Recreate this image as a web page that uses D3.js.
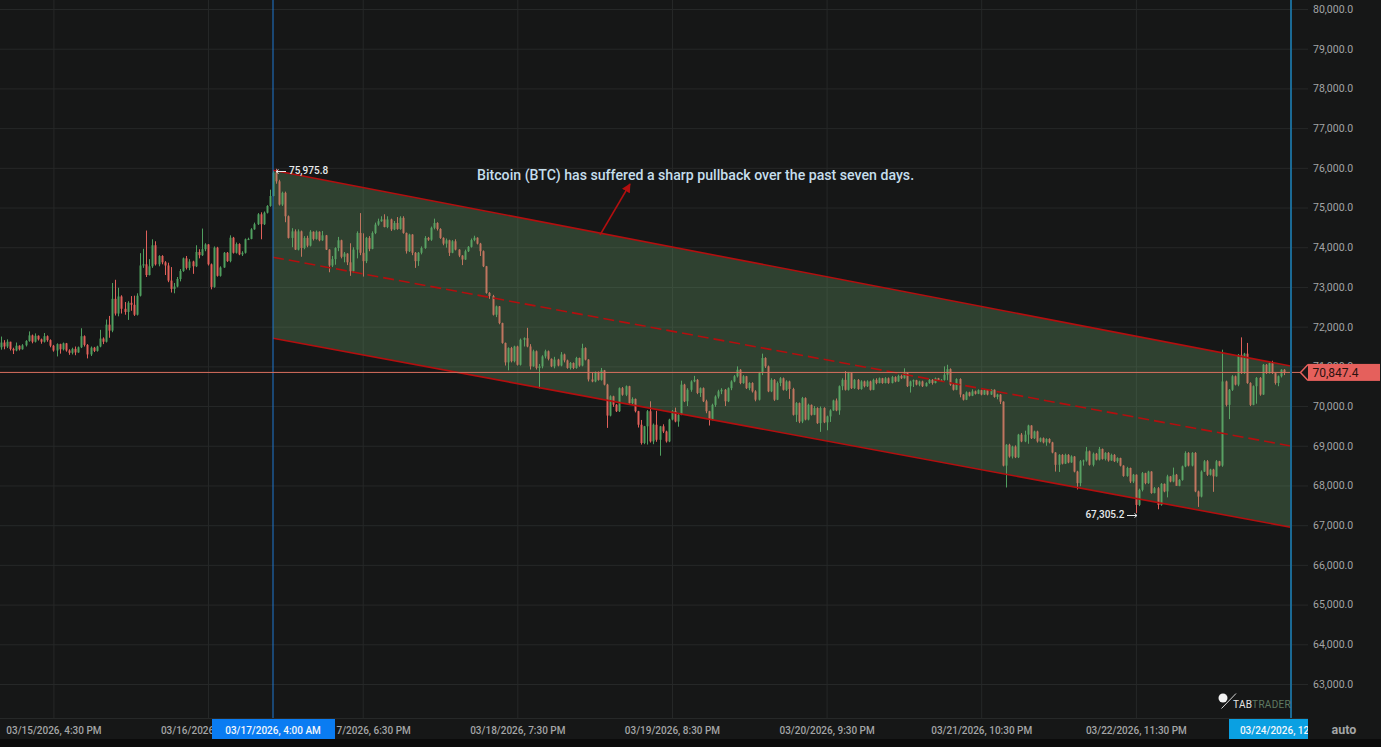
<!DOCTYPE html>
<html>
<head>
<meta charset="utf-8">
<style>
  html, body { margin: 0; padding: 0; background: #0b0b0b; }
  svg { display: block; font-family: Roboto, sans-serif; }
  .domain { display: none; }
</style>
</head>
<body>
<svg id="chart" width="1381" height="747"></svg>
<script src="https://cdn.jsdelivr.net/npm/d3@7"></script>
<script>
// 30 minute candles, the open of a candle is the close of the one before
const firstCandle = Date.UTC(2026, 2, 15, 8, 0);
const candleStep = 30 * 60 * 1000;

const closes = [
71600,71500,71620,71440,71400,71520,71430,71530,71640,71780,
71620,71770,71680,71620,71760,71660,71520,71400,71560,71430,
71580,71400,71340,71440,71350,71480,71760,71540,71300,71470,
71390,71500,71700,71620,72050,71900,72700,72330,72760,72450,
72370,72600,72550,72300,72780,73540,73570,73300,73520,74050,
73570,73780,73620,73540,73160,72950,73010,73200,73400,73720,
73480,73640,73520,73880,73800,73950,74070,73570,73000,73990,
73280,73490,73860,73650,74240,73860,74080,73820,73860,74200,
74210,74450,74580,74830,74580,74870,75040,75290,75880,75660,
75075,75370,74780,74235,74400,73940,74400,73980,74235,74040,
74390,74210,74390,74175,74300,73940,73540,73700,73980,74175,
73760,73840,73620,73395,73940,74360,73860,73650,74235,73960,
74360,74570,74655,74700,74510,74700,74450,74610,74460,74740,
74360,73900,74320,73860,73650,73860,73980,74235,74190,74490,
74610,74460,74235,74090,74175,73860,74150,73940,73790,73690,
73900,74010,74180,74240,74090,73900,73520,72850,72770,72300,
72510,72090,71590,71100,71460,71130,71500,71040,71670,71710,
71500,71000,71380,70960,71000,71250,71380,71190,71000,71170,
71020,71300,71150,70960,71085,70960,71210,71020,71460,71170,
70670,70620,70850,70660,70900,70540,69760,70245,70035,69870,
70450,70285,70500,70075,70180,69870,69530,69070,69490,69870,
69110,69530,69150,69490,69360,69110,69660,69870,69610,69780,
70540,70120,70410,70620,70660,70330,70450,70120,69870,69660,
70030,70240,70370,70410,70120,70450,70620,70750,70915,70580,
70750,70450,70580,70370,70160,70830,71210,71000,70370,70660,
70160,70580,70700,70410,70620,70430,69780,70075,69610,70200,
69660,70030,69780,69950,69570,69950,69590,69740,69890,70140,
69890,70500,70660,70410,70830,70450,70660,70430,70620,70500,
70620,70410,70660,70580,70700,70580,70700,70580,70730,70620,
70760,70700,70830,70500,70620,70650,70540,70620,70500,70580,
70660,70580,70700,70650,70660,70790,70930,70540,70410,70680,
70290,70160,70345,70260,70370,70310,70400,70290,70400,70290,
70410,70230,70290,70110,68500,69025,68730,68980,68710,69280,
69110,69280,69510,69190,69360,69110,69190,69085,69170,69085,
68830,68520,68770,68550,68770,68580,68730,68350,68060,68610,
68630,68860,68520,68800,68650,68920,68670,68820,68630,68770,
68610,68690,68500,68240,68440,68100,68270,67510,67890,68310,
68060,68350,67810,67930,67510,68040,67850,68230,68100,68270,
67990,68140,68480,68820,68500,68820,67850,67720,68350,68610,
68270,68400,68230,68610,68500,70620,70030,70410,70750,70540,
71290,70830,71320,70580,70030,70500,70710,70290,71040,70830,
71080,70830,70580,70750,70915,70847
];

const highs = [
71750,71660,71680,71620,71470,71600,71530,71560,71660,71880,
71800,71830,71780,71700,71840,71780,71680,71540,71580,71570,
71600,71590,71430,71470,71500,71500,71960,71780,71560,71500,
71490,71520,71920,71730,72180,72270,73100,73180,72980,72790,
72620,72640,72770,72780,72840,73850,73960,74420,73700,74200,
74150,73800,73800,73650,73610,73500,73100,73250,73450,73740,
73780,73700,73660,74050,73950,74470,74100,74080,73590,74020,
74010,73520,73880,73880,74300,74260,74120,74100,73900,74220,
74240,74480,74620,74860,74880,74900,75060,75450,75920,75976,
75700,75400,75400,74800,74480,74450,74450,74420,74280,74290,
74430,74400,74420,74400,74410,74310,73950,73780,74000,74260,
74190,73880,73850,74100,74000,74400,74860,74350,74260,74280,
74400,74620,74720,74780,74830,74780,74720,74660,74760,74780,
74780,74370,74340,74330,73880,73880,74020,74280,74260,74520,
74720,74630,74480,74250,74220,74190,74180,74200,73950,73800,
73940,74030,74220,74290,74250,74110,73920,73530,72870,72800,
72530,72520,72100,71600,71480,71490,71520,71520,71700,71730,
71970,71560,71420,71400,71060,71280,71420,71400,71200,71240,
71190,71360,71320,71170,71110,71100,71240,71220,71570,71480,
71180,70840,70870,70870,70960,70910,70560,70270,70260,70050,
70470,70480,70520,70510,70220,70190,69880,69650,69500,69900,
70120,69560,69880,69500,69540,69380,69680,69900,69960,69810,
70640,70560,70450,70650,70760,70680,70470,70470,70160,69880,
70060,70270,70410,70450,70430,70470,70650,70780,71000,70930,
70780,70760,70600,70600,70400,70860,71320,71230,71020,70700,
70680,70620,70730,70720,70650,70640,70460,70100,70090,70230,
70220,70060,70040,70000,69970,69990,69970,69760,69920,70160,
70190,70520,70700,70880,70860,70850,70680,70680,70650,70640,
70650,70640,70690,70700,70720,70710,70730,70720,70760,70750,
70790,70790,70950,70850,70640,70670,70660,70640,70640,70600,
70680,70680,70720,70710,70680,71000,71040,70950,70560,70700,
70700,70300,70370,70360,70420,70390,70420,70410,70420,70420,
70430,70420,70310,70300,70120,69040,69050,69000,69010,69300,
69320,69380,69530,69520,69380,69380,69210,69210,69190,69190,
69100,68840,68790,68790,68800,68790,68760,68740,68370,68640,
68650,68970,68880,68830,68820,68970,68930,68840,68840,68800,
68790,68710,68700,68510,68470,68450,68290,68280,67920,68340,
68320,68370,68360,67960,67960,68060,68050,68270,68240,68450,
68290,68160,68500,68860,68840,68840,68840,67870,68380,68640,
68640,68420,68420,68640,68620,71420,70640,70430,70780,70770,
71310,71730,71340,71590,70600,70520,70730,70730,71060,71060,
71100,71140,70840,70770,70930,70930
];

const lows = [
71420,71430,71460,71400,71310,71380,71400,71420,71500,71620,
71580,71600,71650,71570,71600,71620,71480,71370,71250,71320,
71400,71370,71290,71300,71280,71340,71460,71500,71200,71260,
71360,71370,71480,71560,71600,71720,71860,72280,72260,72330,
72300,72170,72400,72270,72280,72760,73480,73250,73290,73480,
73540,73520,73570,73300,73120,72860,72840,72990,73140,73380,
73440,73420,73330,73500,73720,73780,73900,73540,72940,72980,
73260,73260,73480,73630,73620,73840,73840,73800,73780,73840,
74180,74200,74440,74560,74200,74560,74850,75020,75280,75600,
75050,75040,74630,74220,74000,73930,73920,73760,73950,74000,
74020,74170,74190,74150,74160,73930,73370,73500,73560,73900,
73720,73620,73550,73280,73350,73720,73800,73260,73600,73900,
73950,74330,74540,74640,74500,74480,74410,74430,74440,74440,
74340,73840,73880,73800,73480,73530,73820,73960,74160,74160,
74450,74420,74210,74050,73990,73780,73850,73920,73750,73550,
73680,73880,73990,74150,74070,73780,73500,72830,72700,72280,
72240,72060,71570,71020,70900,71100,71100,71020,71020,71500,
71480,70920,70990,70920,70440,70950,71200,71150,70980,70950,
71000,71000,71100,70940,70920,70930,70940,70990,71000,71150,
70620,70600,70600,70640,70640,70520,69450,69740,69980,69850,
69850,70260,70250,70060,70040,69840,69460,69030,69040,69030,
69080,69040,69100,68750,69320,69080,69090,69640,69590,69480,
69770,70100,70000,70360,70600,70300,70230,70100,69820,69510,
69640,69980,70190,70300,70000,70100,70400,70600,70720,70550,
70560,70430,70400,70340,70120,70140,70780,70960,70350,70350,
70130,70150,70500,70390,70380,70180,69760,69600,69570,69570,
69640,69640,69760,69770,69550,69350,69570,69390,69600,69880,
69870,69780,70400,70390,70390,70430,70430,70410,70410,70470,
70480,70390,70400,70550,70570,70560,70570,70560,70570,70600,
70610,70680,70690,70480,70340,70480,70520,70500,70480,70490,
70560,70540,70570,70630,70620,70640,70650,70510,70390,70400,
70220,70140,70150,70240,70250,70290,70300,70270,70280,70270,
70280,70210,70170,70050,68480,67950,68700,68680,68690,68690,
69090,69090,69050,69170,69170,69080,69090,69060,69000,69060,
68810,68350,68340,68530,68540,68560,68570,68330,67900,67980,
68500,68600,68500,68480,68630,68630,68650,68630,68600,68620,
68590,68570,68480,68220,68220,68060,68060,67305,67480,67850,
68030,68040,67790,67800,67400,67490,67830,67700,68080,68080,
68000,67980,68120,68460,68480,68480,67830,67460,67700,68340,
68240,68250,67840,68220,68480,68470,69990,69670,70380,70520,
70500,70810,70810,70560,70000,70020,70060,70260,70280,70810,
70820,70810,70540,70500,70720,70780
];

// value labels, tick labels and the channel
const priceTicks = [80000,79000,78000,77000,76000,75000,74000,73000,72000,71000,70000,69000,68000,67000,66000,65000,64000,63000];
const timeTicks = [
  Date.UTC(2026, 2, 15, 16, 30), Date.UTC(2026, 2, 16, 17, 30), Date.UTC(2026, 2, 17, 18, 30),
  Date.UTC(2026, 2, 18, 19, 30), Date.UTC(2026, 2, 19, 20, 30), Date.UTC(2026, 2, 20, 21, 30),
  Date.UTC(2026, 2, 21, 22, 30), Date.UTC(2026, 2, 22, 23, 30)
];
const crossTime = Date.UTC(2026, 2, 17, 4, 0);
const lastTime = Date.UTC(2026, 2, 24, 0, 30);
const lastPrice = 70847.4;
const maxPrice = 75975.8;
const minPrice = 67305.2;
const channelTop = [75940, 71010];
const channelMid = [73750, 68995];
const channelBottom = [71710, 66950];
const noteText = "Bitcoin (BTC) has suffered a sharp pullback over the past seven days.";

const upColor = "#4f9e5f";
const downColor = "#e0605a";
const gridColor = "#262828";
const channelColor = "#b30f0f";
const labelColor = "#e6e9ea";

const svg = d3.select("#chart");
const x = d3.scaleUtc().domain([crossTime, lastTime]).range([273, 1290.5]);
const y = d3.scaleLinear().domain([80000, 63000]).range([9, 684]);
const fmtPrice = d3.format(",.1f");
const fmtTime = d3.utcFormat("%m/%d/%Y, %-I:%M %p");

// panels
svg.append("rect").attr("width", 1381).attr("height", 739).attr("fill", "#161717");

// grid
const xGrid = d3.axisBottom(x).tickValues(timeTicks.concat([lastTime])).tickSize(718).tickFormat("");
const yGrid = d3.axisRight(y).tickValues(priceTicks).tickSize(1308).tickFormat("");
svg.append("g").call(xGrid).selectAll("line").attr("stroke", gridColor);
svg.append("g").call(yGrid).selectAll("line").attr("stroke", gridColor);

// candles
const plot = svg.append("g");
const candles = closes.map(function (c, i) {
  return {
    t: firstCandle + i * candleStep,
    open: i == 0 ? 71480 : closes[i - 1],
    close: c,
    high: highs[i],
    low: lows[i]
  };
});
const candle = plot.selectAll("g.candle").data(candles).enter().append("g").attr("class", "candle");
candle.append("line")
  .attr("x1", d => Math.round(x(d.t)) + 0.5).attr("x2", d => Math.round(x(d.t)) + 0.5)
  .attr("y1", d => y(d.high)).attr("y2", d => y(d.low))
  .attr("stroke", d => d.close >= d.open ? upColor : downColor)
  .attr("stroke-width", 1);
candle.append("rect")
  .attr("x", d => Math.round(x(d.t)) - 0.5).attr("width", 2)
  .attr("y", d => y(Math.max(d.open, d.close)))
  .attr("height", d => Math.max(1, Math.abs(y(d.open) - y(d.close))))
  .attr("fill", d => d.close >= d.open ? upColor : downColor);

// channel, the fill goes over the candles
const chartLine = d3.line().x(d => x(d[0])).y(d => y(d[1]));
const ends = [crossTime, lastTime];
const topPts = channelTop.map((p, i) => [ends[i], p]);
const midPts = channelMid.map((p, i) => [ends[i], p]);
const botPts = channelBottom.map((p, i) => [ends[i], p]);
svg.append("path")
  .attr("d", chartLine(topPts.concat(botPts.slice().reverse())) + "Z")
  .attr("fill", "rgb(110,170,110)").attr("fill-opacity", 0.29);
[topPts, botPts].forEach(function (pts) {
  svg.append("path").attr("d", chartLine(pts)).attr("fill", "none")
    .attr("stroke", channelColor).attr("stroke-width", 1.6);
});
svg.append("path").attr("d", chartLine(midPts)).attr("fill", "none")
  .attr("stroke", channelColor).attr("stroke-width", 1.6).attr("stroke-dasharray", "11,5");

// note with its arrow
svg.append("defs").append("marker").attr("id", "head")
  .attr("viewBox", "0 0 10 10").attr("refX", 9).attr("refY", 5)
  .attr("markerWidth", 6).attr("markerHeight", 6).attr("orient", "auto")
  .append("path").attr("d", "M0,0 L10,5 L0,10 Z").attr("fill", channelColor);
svg.append("line").attr("x1", 600).attr("y1", 235).attr("x2", 630).attr("y2", 184)
  .attr("stroke", channelColor).attr("stroke-width", 1.5).attr("marker-end", "url(#head)");
svg.append("text").attr("x", 477).attr("y", 179.5).attr("fill", "#c5deec")
  .style("font-size", "14.15px").style("font-weight", 500).text(noteText);

// high and low labels, each with a small white arrow
function pointer(x0, x1, yPos, dir) {
  svg.append("path")
    .attr("d", "M" + x0 + "," + yPos + " L" + x1 + "," + yPos +
      " M" + (x1 - dir * 2.5) + "," + (yPos - 2) + " L" + x1 + "," + yPos + " L" + (x1 - dir * 2.5) + "," + (yPos + 2))
    .attr("fill", "none").attr("stroke", labelColor).attr("stroke-width", 1);
}
pointer(286, 276, 171.5, -1);
pointer(1127, 1137, 515.5, 1);
svg.append("text").attr("x", 289).attr("y", 171).attr("dy", "0.32em")
  .attr("fill", labelColor).style("font-size", "10px").style("font-weight", 500)
  .text(fmtPrice(maxPrice));
svg.append("text").attr("x", 1124.5).attr("y", 515).attr("dy", "0.32em").attr("text-anchor", "end")
  .attr("fill", labelColor).style("font-size", "10px").style("font-weight", 500)
  .text(fmtPrice(minPrice));

// crosshair
svg.append("line").attr("x1", x(crossTime)).attr("x2", x(crossTime)).attr("y1", 0).attr("y2", 718)
  .attr("stroke", "#1f78d1").attr("stroke-width", 1);
svg.append("line").attr("x1", 0).attr("x2", 1300).attr("y1", y(lastPrice)).attr("y2", y(lastPrice))
  .attr("stroke", "#d9705f").attr("stroke-width", 1);

// end of data line
svg.append("line").attr("x1", x(lastTime) + 0.5).attr("x2", x(lastTime) + 0.5).attr("y1", 0).attr("y2", 718)
  .attr("stroke", "#1b6a95").attr("stroke-width", 2);

// logo
svg.append("circle").attr("cx", 1223).attr("cy", 698).attr("r", 4.5).attr("fill", "#f2f2f2");
svg.append("line").attr("x1", 1221.5).attr("y1", 708.5).attr("x2", 1236).attr("y2", 693.5)
  .attr("stroke", "#d8d8d8").attr("stroke-width", 1);
const logo = svg.append("text").attr("x", 1233).attr("y", 708).style("font-size", "10px").style("letter-spacing", "0.3px");
logo.append("tspan").attr("fill", "#e4e4e4").text("TAB");
logo.append("tspan").attr("fill", "#5f7a62").text("TRADER");

// price axis, the tick under the current price tag is left out of the picture by the tag
const priceAxis = d3.axisRight(y).tickValues(priceTicks).tickSize(0).tickPadding(0).tickFormat(fmtPrice);
const priceG = svg.append("g").attr("transform", "translate(1313,0)").call(priceAxis);
priceG.selectAll("text").attr("fill", "#a3a5a6").style("font-size", "10.5px").style("font-family", "Roboto");

// current price tag
svg.append("rect").attr("x", 1308).attr("y", y(lastPrice) - 8.5).attr("width", 72).attr("height", 17).attr("fill", "#e5605c");
svg.append("path")
  .attr("d", "M1308," + (y(lastPrice) - 8) + " L1300.5," + y(lastPrice) + " L1308," + (y(lastPrice) + 8))
  .attr("fill", "#161717").attr("stroke", "#e5605c").attr("stroke-width", 1.5);
svg.append("text").attr("x", 1312.5).attr("y", y(lastPrice)).attr("dy", "0.35em").attr("fill", "#2a1210")
  .style("font-size", "12px").text(fmtPrice(lastPrice));

// time axis
svg.append("rect").attr("x", 0).attr("y", 718).attr("width", 1308).attr("height", 21).attr("fill", "#161717");
svg.append("line").attr("x1", 0).attr("x2", 1308).attr("y1", 718.5).attr("y2", 718.5).attr("stroke", gridColor);
const timeAxis = d3.axisBottom(x).tickValues(timeTicks).tickSize(0).tickPadding(0).tickFormat(fmtTime);
const timeG = svg.append("g").attr("transform", "translate(0,726)").call(timeAxis);
timeG.selectAll("text").attr("fill", "#a3a5a6").attr("dy", "0.32em").attr("y", 4.5)
  .style("font-size", "10px").style("font-weight", 500).style("font-family", "Roboto");

// time tags on top of the axis
const tags = [
  { t: crossTime, color: "#0a7cf2", x0: 212, x1: 335 },
  { t: lastTime, color: "#0aa0e2", x0: 1229, x1: 1308 }
];
tags.forEach(function (tag, i) {
  svg.append("clipPath").attr("id", "tag" + i).append("rect")
    .attr("x", tag.x0).attr("y", 719).attr("width", tag.x1 - tag.x0).attr("height", 20);
  svg.append("rect").attr("x", tag.x0).attr("y", 719).attr("width", tag.x1 - tag.x0).attr("height", 20).attr("fill", tag.color);
  svg.append("text").attr("x", x(tag.t)).attr("y", 730.5).attr("dy", "0.32em").attr("text-anchor", "middle")
    .attr("clip-path", "url(#tag" + i + ")").attr("fill", "#f2f6fa")
    .style("font-size", "10px").style("font-weight", 500).text(fmtTime(tag.t));
});

// auto button
svg.append("text").attr("x", 1344).attr("y", 730).attr("dy", "0.32em").attr("text-anchor", "middle")
  .attr("fill", "#a3a5a6").style("font-size", "12.5px").style("font-weight", 700).text("auto");
</script>
</body>
</html>
